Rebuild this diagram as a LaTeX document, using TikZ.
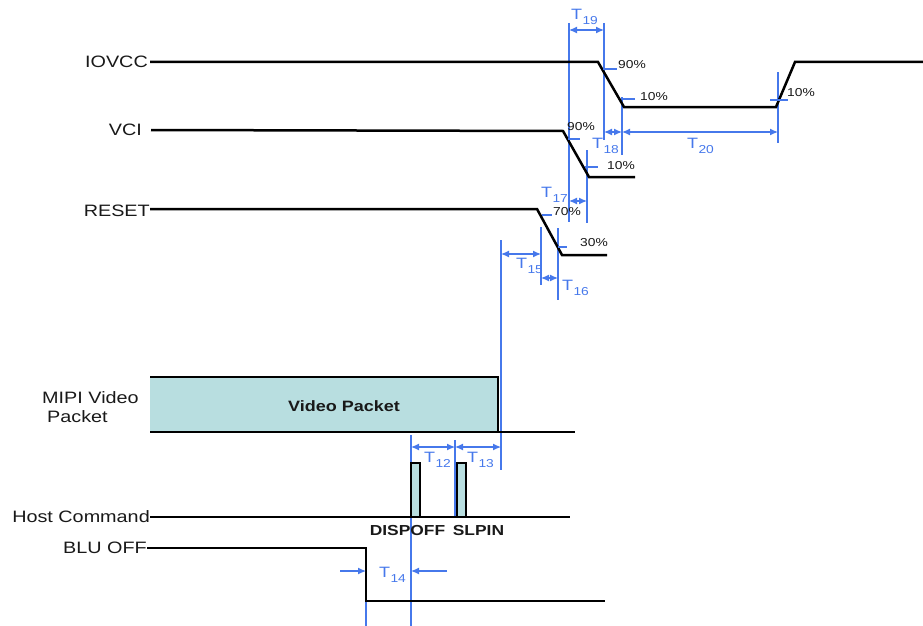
\documentclass[tikz,border=0pt]{standalone}
\usepackage{fontspec}
\setmainfont{Liberation Sans}
\usepackage{graphicx}
\usetikzlibrary{arrows.meta}
\definecolor{dimblue}{RGB}{70,120,235}
\definecolor{pkt}{RGB}{184,222,224}
\newcommand{\hs}[1]{\scalebox{1.2}[1]{#1}}
\newcommand{\Tl}[1]{\hs{\fontsize{15}{15}\selectfont T\kern0.3pt\raisebox{-5pt}{\fontsize{11.5}{12}\selectfont #1}}}
\begin{document}
\begin{tikzpicture}[x=1pt,y=-1pt,
  lbl/.style={inner sep=0pt, font=\fontsize{16.5}{19}\selectfont, text=black!90},
  pct/.style={inner sep=0pt, anchor=west, font=\fontsize{11.5}{12}\selectfont, text=black!90},
  cmd/.style={inner sep=0pt, font=\fontsize{14.5}{16}\selectfont\bfseries, text=black!90},
  tlab/.style={inner sep=0pt, anchor=base west, text=dimblue},
  sig/.style={line width=2.5pt, black, line join=miter},
  thin/.style={line width=1.9pt, black},
  guide/.style={dimblue, line width=1.1pt},
  tick/.style={dimblue, line width=1.1pt},
  dim/.style={dimblue, line width=1.2pt, {Latex[length=8pt,width=7pt]}-{Latex[length=8pt,width=7pt]}},
  dimr/.style={dimblue, line width=1.2pt, -{Latex[length=8pt,width=7pt]}}
]
\useasboundingbox (0,0) rectangle (923,626);

% ---------- signal labels ----------
\node[lbl, anchor=east] (liovcc) at (148,62) {\hs{IOVCC}};
\node[lbl, anchor=east] (lvci) at (142,130) {\hs{VCI}};
\node[lbl, anchor=east] (lreset) at (150,211) {\hs{RESET}};
\node[lbl, anchor=west, align=left] (lmipi) at (42,407) {\hs{MIPI Video}\\\hspace*{5pt}\hs{Packet}};
\node[lbl, anchor=east] (lhost) at (150,517) {\hs{Host Command}};
\node[lbl, anchor=east] (lblu) at (147,548) {\hs{BLU OFF}};

% ---------- blue guide lines (behind) ----------
\coordinate (g19a) at (569,23);  \coordinate (g19b) at (569,222);
\coordinate (g18a) at (604,23);  \coordinate (g18b) at (604,140);
\coordinate (g20a) at (622,97);  \coordinate (g20b) at (622,155);
\coordinate (g21a) at (778,72);  \coordinate (g21b) at (778,143);
\coordinate (g17a) at (587,150); \coordinate (g17b) at (587,223);
\coordinate (g15a) at (541,227); \coordinate (g15b) at (541,285);
\coordinate (g16a) at (558,228); \coordinate (g16b) at (558,300);
\coordinate (g13a) at (501,240); \coordinate (g13b) at (501,470);
\coordinate (g12a) at (411,435); \coordinate (g12b) at (411,626);
\coordinate (g11a) at (455,440); \coordinate (g11b) at (455,517);
\coordinate (g14a) at (366,555); \coordinate (g14b) at (366,626);
\foreach \p in {19,18,20,21,17,15,16,13,12,11,14}
  \draw[guide] (g\p a) -- (g\p b);

% ---------- waveforms ----------
\draw[sig] (liovcc.east) ++(2,0) -- (598,62) -- (624,107) -- (776,107) -- (795,62) -- (923,62);
\draw[sig] (lvci.east) ++(9,0) -- (563,131) -- (589,177) -- (635,177);
\draw[sig] (lreset.east) ++(0,-2) -- (537,209) -- (562,255) -- (607,255);

\fill[pkt] (150,377) rectangle (498,432);
\draw[sig] (150,377) -- (498,377) -- (498,432);
\draw[sig] (150,432) -- (575,432);
\node[cmd, font=\fontsize{15}{16}\selectfont\bfseries] (vp) at (344,406) {\hs{Video Packet}};

\draw[thin] (lhost.east) -- (570,517);
\draw[thin, fill=pkt] (411,517) rectangle (420,463);
\draw[thin, fill=pkt] (457,517) rectangle (466,463);
\node[cmd] (dispoff) at (407.5,531) {\hs{DISPOFF}};
\node[cmd] (slpin) at (478.5,531) {\hs{SLPIN}};

\draw[sig] (lblu.east) -- (366,548) -- (366,601) -- (605,601);

% ---------- ticks and percentages ----------
\draw[tick] (603,69) -- (617,69);  \node[pct] (p1) at (618,65) {\hs{90\%}};
\draw[tick] (622,99) -- (635,99);  \node[pct] (p2) at (640,97) {\hs{10\%}};
\draw[tick] (770,100) -- (788,100); \node[pct] (p3) at (787,93) {\hs{10\%}};
\draw[tick] (568,139) -- (580,139); \node[pct] (p4) at (567,127) {\hs{90\%}};
\draw[tick] (585,167) -- (598,167); \node[pct] (p5) at (607,166) {\hs{10\%}};
\draw[tick] (542,215) -- (552,215); \node[pct] (p6) at (553,212) {\hs{70\%}};
\draw[tick] (558,247) -- (567,247); \node[pct] (p7) at (580,243) {\hs{30\%}};

% ---------- dimension arrows ----------
\draw[dim] (g19a |- 0,30) -- (g18a |- 0,30);
\draw[dim] (g18a |- 0,132) -- (g20a |- 0,132);
\draw[dim] (g20a |- 0,132) -- (g21a |- 0,132);
\draw[dim] (g19a |- 0,201) -- (g17a |- 0,201);
\draw[dim] (g13a |- 0,254) -- (g15a |- 0,254);
\draw[dim] (g15a |- 0,278) -- (g16a |- 0,278);
\draw[dim] (g12a |- 0,447) -- (g11a |- 0,447);
\draw[dim] (g11a |- 0,447) -- (g13a |- 0,447);
\coordinate (a14l) at (340,571);
\coordinate (a14r) at (447,571);
\draw[dimr] (a14l) -- (g14a |- a14l);
\draw[dimr] (a14r) -- (g12a |- a14r);

% ---------- T labels ----------
\node[tlab] (t19) at (571,20) {\Tl{19}};
\node[tlab] (t18) at (592,148) {\Tl{18}};
\node[tlab] (t20) at (687,148) {\Tl{20}};
\node[tlab] (t17) at (541,197) {\Tl{17}};
\node[tlab] (t15) at (516,268) {\Tl{15}};
\node[tlab] (t16) at (562,290) {\Tl{16}};
\node[tlab] (t12) at (424,462) {\Tl{12}};
\node[tlab] (t13) at (467,462) {\Tl{13}};
\node[tlab] (t14) at (379,577) {\Tl{14}};
\end{tikzpicture}
\end{document}
